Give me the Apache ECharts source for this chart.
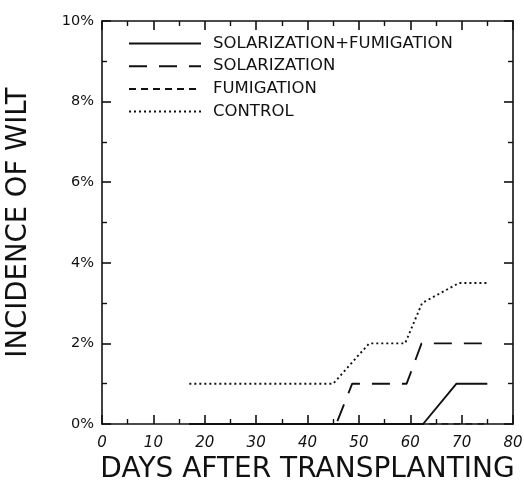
<!DOCTYPE html>
<html>
<head>
<meta charset="utf-8">
<script src="https://cdn.jsdelivr.net/npm/echarts@6/dist/echarts.min.js"></script>
<style>
  html, body { margin: 0; padding: 0; background: #fff; }
  #chart { width: 524px; height: 493px; }
</style>
</head>
<body>
<div id="chart"></div>
<script>
// Incidence of wilt (%) by days after transplanting, per soil treatment
const seriesNames = ['SOLARIZATION+FUMIGATION', 'SOLARIZATION', 'FUMIGATION', 'CONTROL'];

const solFumDays   = [17, 62.5, 69, 75];
const solFumWilt   = [0, 0, 1, 1];

const solarDays    = [17, 45.6, 48.7, 59.3, 62.2, 75];
const solarWilt    = [0, 0, 1, 1, 2, 2];

const fumDays      = [17, 75];
const fumWilt      = [0, 0];

const controlDays  = [17, 45, 52, 59, 62.3, 69.5, 75];
const controlWilt  = [1, 1, 2, 2, 3, 3.5, 3.5];

const pairs = (xs, ys) => xs.map((x, i) => [x, ys[i]]);

const INK = '#111';
const FONT = 'DejaVu Sans';

const frameAxis = (extra) => Object.assign({
  min: 0,
  axisLine: { show: true, onZero: false, lineStyle: { color: INK, width: 1.6 } },
  axisTick: { show: true, inside: true, length: 9, lineStyle: { color: INK, width: 1.6 } },
  minorTick: { show: true, splitNumber: 2, length: 5, lineStyle: { color: INK, width: 1.4 } },
  splitLine: { show: false },
  minorSplitLine: { show: false }
}, extra);

const chart = echarts.init(document.getElementById('chart'), null, { renderer: 'canvas' });

const lineSeries = (name, data, dash, width) => ({
  name,
  type: 'line',
  data,
  symbol: 'none',
  xAxisIndex: 0,
  yAxisIndex: 0,
  lineStyle: { color: INK, width: width, type: dash },
  itemStyle: { color: INK },
  emphasis: { disabled: true },
  animation: false
});

chart.setOption({
  animation: false,
  backgroundColor: '#fff',
  grid: { left: 102, right: 11, top: 21, bottom: 69, containLabel: false, outerBoundsMode: 'none' },
  legend: {
    orient: 'vertical',
    left: 128,
    top: 35,
    padding: 0,
    itemWidth: 72,
    itemHeight: 14,
    itemGap: 5.7,
    data: seriesNames,
    itemStyle: { opacity: 0 },
    textStyle: { fontFamily: FONT, fontSize: 16.5, color: INK, padding: [0, 0, 0, 7] }
  },
  xAxis: [
    frameAxis({
      type: 'value', position: 'bottom', max: 80, interval: 10,
      name: 'DAYS AFTER TRANSPLANTING',
      nameLocation: 'middle', nameGap: 32,
      nameTextStyle: { fontFamily: FONT, fontSize: 28, color: INK },
      axisLabel: { show: true, margin: 12, fontFamily: FONT, fontSize: 15, fontStyle: 'italic', color: INK }
    }),
    frameAxis({
      type: 'value', position: 'top', max: 80, interval: 10,
      axisLabel: { show: false }
    })
  ],
  yAxis: [
    frameAxis({
      type: 'value', position: 'left', max: 10, interval: 2,
      name: 'INCIDENCE OF WILT',
      nameLocation: 'middle', nameGap: 69, nameRotate: 90,
      nameTextStyle: { fontFamily: FONT, fontSize: 27.5, color: INK },
      axisLabel: { show: true, margin: 8, fontFamily: FONT, fontSize: 14.5, color: INK, formatter: '{value}%' }
    }),
    frameAxis({
      type: 'value', position: 'right', max: 10, interval: 2,
      axisLabel: { show: false }
    })
  ],
  series: [
    lineSeries(seriesNames[0], pairs(solFumDays, solFumWilt), 'solid', 1.9),
    lineSeries(seriesNames[1], pairs(solarDays, solarWilt), [18, 12], 1.9),
    lineSeries(seriesNames[2], pairs(fumDays, fumWilt), [7, 5], 1.7),
    lineSeries(seriesNames[3], pairs(controlDays, controlWilt), [2, 3], 1.9)
  ]
});
</script>
</body>
</html>
